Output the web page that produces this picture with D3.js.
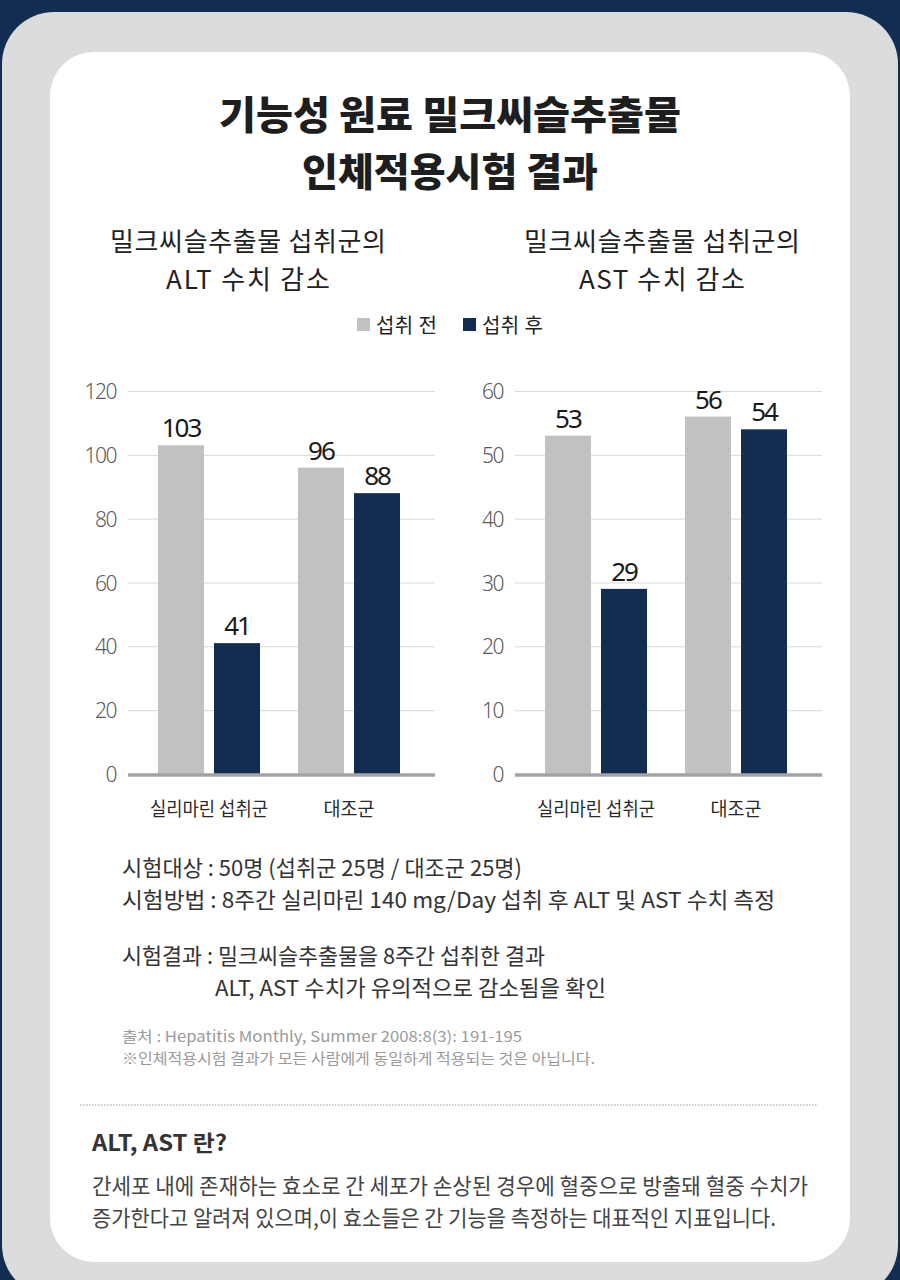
<!DOCTYPE html>
<html>
<head>
<meta charset="utf-8">
<script src="https://cdn.jsdelivr.net/npm/d3@7"></script>
<style>
  html, body { margin: 0; padding: 0; background: #132d52; }
  svg { display: block; }
</style>
</head>
<body>
<svg id="chart" width="900" height="1280"></svg>
<script>
// ---------- data ----------
const categories = ["실리마린 섭취군", "대조군"];
const seriesNames = ["섭취 전", "섭취 후"];
const seriesColors = ["#c1c1c1", "#132d52"];
const altBefore = [103, 96];
const altAfter = [41, 88];
const astBefore = [53, 56];
const astAfter = [29, 54];
const altTicks = [0, 20, 40, 60, 80, 100, 120];
const astTicks = [0, 10, 20, 30, 40, 50, 60];
const titleLines = ["기능성 원료 밀크씨슬추출물", "인체적용시험 결과"];
const altTitle = ["밀크씨슬추출물 섭취군의", "ALT 수치 감소"];
const astTitle = ["밀크씨슬추출물 섭취군의", "AST 수치 감소"];
const noteLines = [
  "시험대상 : 50명 (섭취군 25명 / 대조군 25명)",
  "시험방법 : 8주간 실리마린 140 mg/Day 섭취 후 ALT 및 AST 수치 측정",
  "시험결과 : 밀크씨슬추출물을 8주간 섭취한 결과",
  "ALT, AST 수치가 유의적으로 감소됨을 확인"
];
const sourceLines = [
  "출처 : Hepatitis Monthly, Summer 2008:8(3): 191-195",
  "※인체적용시험 결과가 모든 사람에게 동일하게 적용되는 것은 아닙니다."
];
const infoTitle = "ALT, AST 란?";
const infoLines = [
  "간세포 내에 존재하는 효소로 간 세포가 손상된 경우에 혈중으로 방출돼 혈중 수치가",
  "증가한다고 알려져 있으며,이 효소들은 간 기능을 측정하는 대표적인 지표입니다."
];

// ---------- setup ----------
const KR = "'Noto Sans CJK KR', 'Noto Sans', sans-serif";
const NUM = "'Noto Sans', 'Noto Sans CJK KR', sans-serif";
const svg = d3.select("#chart");

// background frames
svg.append("rect").attr("x", 0).attr("y", 0).attr("width", 900).attr("height", 1280).attr("fill", "#132d52");
svg.append("rect").attr("x", 2).attr("y", 12).attr("width", 896).attr("height", 1285).attr("rx", 52).attr("fill", "#dcdcdc");
svg.append("rect").attr("x", 50).attr("y", 52).attr("width", 800).attr("height", 1210).attr("rx", 44).attr("fill", "#ffffff");

function txt(x, y, s, o) {
  const t = svg.append("text").attr("x", x).attr("y", y).text(s)
    .attr("font-family", o.family || KR)
    .attr("font-size", o.size)
    .attr("font-weight", o.weight || 400)
    .attr("fill", o.color || "#222")
    .attr("text-anchor", o.anchor || "start");
  if (o.len) t.attr("textLength", o.len).attr("lengthAdjust", o.adjust || "spacing");
  return t;
}

// title
txt(450, 129, titleLines[0], {size: 39, weight: 900, anchor: "middle", len: 462, adjust: "spacingAndGlyphs", color: "#1e1e1e"});
txt(450, 186, titleLines[1], {size: 39, weight: 900, anchor: "middle", len: 296, adjust: "spacingAndGlyphs", color: "#1e1e1e"});

// chart subtitles
txt(248, 251, altTitle[0], {size: 26, anchor: "middle", len: 276});
txt(248, 289, altTitle[1], {size: 26, anchor: "middle", len: 164});
txt(662, 251, astTitle[0], {size: 26, anchor: "middle", len: 276});
txt(662, 289, astTitle[1], {size: 26, anchor: "middle", len: 166});

// legend
const legendX = [357, 463];
seriesNames.forEach((n, i) => {
  svg.append("rect").attr("x", legendX[i]).attr("y", 318).attr("width", 13).attr("height", 13).attr("fill", seriesColors[i]);
  txt(legendX[i] + 19, 333, n, {size: 20, len: 61, color: "#222"});
});

// ---------- charts ----------
function drawChart(opts) {
  const y = d3.scaleLinear().domain([0, d3.max(opts.ticks)]).range([774, 391]);
  const x0 = d3.scaleBand().domain(categories).range([opts.bandStart, opts.bandStart + 280]);
  const x1 = d3.scaleBand().domain(seriesNames).range([19, 121]).paddingInner(0.1786);
  const g = svg.append("g");

  // gridlines
  const axis = d3.axisLeft(y).tickValues(opts.ticks).tickSize(-(opts.gridEnd - opts.gridStart)).tickPadding(12);
  const ag = g.append("g").attr("transform", `translate(${opts.gridStart},0)`).call(axis);
  ag.select(".domain").remove();
  ag.selectAll(".tick line").attr("stroke", "#d9d9d9").attr("stroke-width", 1);
  ag.selectAll(".tick text")
    .attr("font-family", NUM).attr("font-size", 21).attr("font-weight", 300)
    .attr("fill", "#5a5a5a").attr("letter-spacing", -1.5).attr("dy", "0.36em");

  // bars
  const data = [];
  categories.forEach((c, i) => {
    data.push({cat: c, s: seriesNames[0], v: opts.before[i], color: seriesColors[0]});
    data.push({cat: c, s: seriesNames[1], v: opts.after[i], color: seriesColors[1]});
  });
  g.selectAll("rect.bar").data(data).enter().append("rect").attr("class", "bar")
    .attr("x", d => x0(d.cat) + x1(d.s))
    .attr("width", x1.bandwidth())
    .attr("y", d => y(d.v))
    .attr("height", d => y(0) - y(d.v))
    .attr("fill", d => d.color);

  // value labels
  g.selectAll("text.val").data(data).enter().append("text").attr("class", "val")
    .attr("x", d => x0(d.cat) + x1(d.s) + x1.bandwidth() / 2)
    .attr("y", d => y(d.v) - 8)
    .attr("text-anchor", "middle")
    .attr("font-family", NUM).attr("font-size", 26).attr("font-weight", 400)
    .attr("letter-spacing", -2)
    .attr("fill", "#1a1a1a")
    .text(d => d.v);

  // baseline
  g.append("line").attr("x1", opts.gridStart).attr("x2", opts.gridEnd)
    .attr("y1", y(0) + 1).attr("y2", y(0) + 1)
    .attr("stroke", "#a3a3a3").attr("stroke-width", 3.5);

  // category labels
  const labelLens = [118, 51];
  categories.forEach((c, i) => {
    g.append("text").attr("x", x0(c) + x0.bandwidth() / 2).attr("y", 816)
      .attr("text-anchor", "middle").attr("font-family", KR).attr("font-size", 19)
      .attr("fill", "#2a2a2a").attr("textLength", labelLens[i]).attr("lengthAdjust", "spacingAndGlyphs")
      .text(c);
  });
}

drawChart({ticks: altTicks, before: altBefore, after: altAfter, gridStart: 128, gridEnd: 435, bandStart: 139});
drawChart({ticks: astTicks, before: astBefore, after: astAfter, gridStart: 515, gridEnd: 822, bandStart: 526});

// ---------- notes ----------
const noteX = [122, 122, 122, 215];
const noteY = [876, 908, 964, 996];
const noteLen = [400, 653, 423, 391];
noteLines.forEach((l, i) => txt(noteX[i], noteY[i], l, {size: 22, color: "#333", len: noteLen[i], adjust: "spacingAndGlyphs"}));

const srcY = [1042, 1064];
const srcLen = [400, 473];
sourceLines.forEach((l, i) => txt(122, srcY[i], l, {size: 15, color: "#9a9a9a", len: srcLen[i], adjust: "spacingAndGlyphs"}));

// dotted separator
svg.append("line").attr("x1", 80).attr("x2", 818).attr("y1", 1105).attr("y2", 1105)
  .attr("stroke", "#bdbdbd").attr("stroke-width", 1.5).attr("stroke-dasharray", "1.5,1.5");

txt(92, 1151, infoTitle, {size: 22, weight: 700, color: "#333", len: 135, adjust: "spacingAndGlyphs"});
const infoY = [1194, 1226];
const infoLen = [716, 684];
infoLines.forEach((l, i) => txt(92, infoY[i], l, {size: 22, color: "#444", len: infoLen[i], adjust: "spacingAndGlyphs"}));
</script>
</body>
</html>
